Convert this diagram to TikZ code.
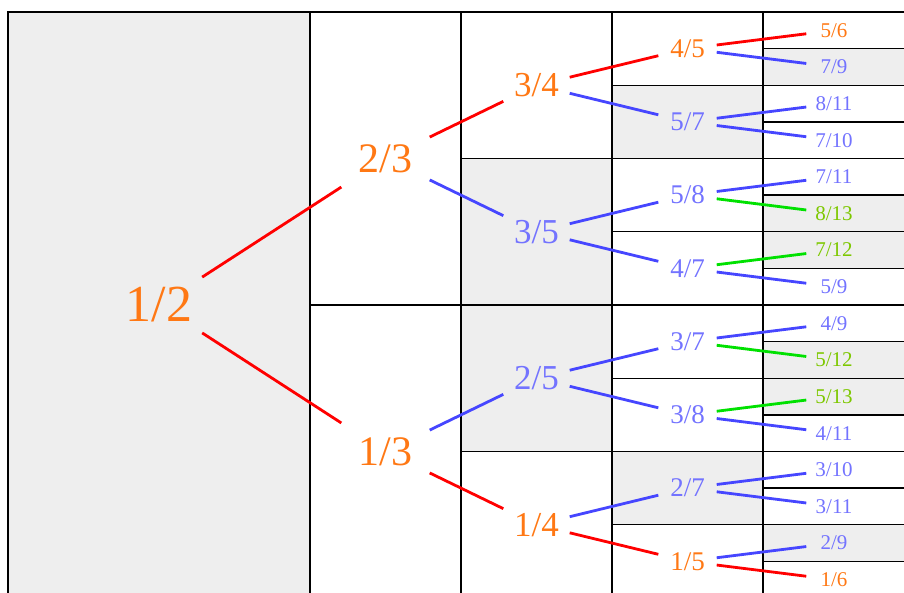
\documentclass[tikz,border=0pt]{standalone}
\usepackage{fontspec}
\setmainfont{Liberation Serif}
\definecolor{fraco}{RGB}{255,120,20}
\definecolor{fracb}{RGB}{115,115,255}
\definecolor{fracg}{RGB}{125,200,0}
\definecolor{linko}{RGB}{255,0,0}
\definecolor{linkb}{RGB}{70,70,255}
\definecolor{linkg}{RGB}{0,225,0}
\definecolor{cellgrey}{RGB}{238,238,238}
\tikzset{
  gridline/.style={draw=black, line width=1.3pt},
  frac/.style={inner sep=0pt, anchor=center},
  fraczero/.style={frac, font=\fontsize{52}{52}\selectfont, minimum width=86pt, minimum height=60pt},
  fracone/.style={frac, font=\fontsize{42}{42}\selectfont, minimum width=88pt, minimum height=60pt},
  fractwo/.style={frac, font=\fontsize{35}{35}\selectfont, minimum width=66pt, minimum height=34pt},
  fracthree/.style={frac, font=\fontsize{27}{27}\selectfont, minimum width=58pt, minimum height=26pt},
  fracfour/.style={frac, font=\fontsize{21}{21}\selectfont, minimum width=55pt, minimum height=22pt},
  link/.style={line width=2.8pt}
}
\begin{document}
\begin{tikzpicture}[x=1pt, y=-1pt]
\useasboundingbox (0,0) rectangle (904,592);
\clip (0,0) rectangle (904,592);
% shaded cells
\foreach \k/\j in {0/0,2/1,2/2,3/1,3/6,4/1,4/5,4/6,4/9,4/10,4/14} {
  \pgfmathsetmacro{\h}{586/2^\k}
  \pgfmathsetmacro{\xa}{\k==0 ? 8 : 159+\k*151}
  \pgfmathsetmacro{\xb}{159+(\k+1)*151}
  \fill[cellgrey] (\xa,{12+\j*\h}) rectangle (\xb,{12+(\j+1)*\h});
}
% grid of cells
\foreach \k/\xa/\xb in {0/8/310,1/310/461,2/461/612,3/612/763,4/763/914} {
  \pgfmathtruncatemacro{\n}{2^\k}
  \pgfmathsetmacro{\h}{586/\n}
  \foreach \j in {1,...,\n} {
    \draw[gridline] (\xa,{12+(\j-1)*\h}) rectangle (\xb,{12+\j*\h});
  }
}
% tree of fractions
\node[fraczero, text=fraco] (n0-0) at (159,305) {1/2};
\foreach \j/\p/\q/\clr in {0/2/3/o,1/1/3/o} {
  \pgfmathsetmacro{\y}{12+(\j+0.5)*293}
  \pgfmathtruncatemacro{\pj}{\j/2}
  \node[fracone, text=frac\clr] (n1-\j) at (385.5,\y) {\p/\q};
  \draw[link, draw=link\clr] (n0-\pj) -- (n1-\j);
}
\foreach \j/\p/\q/\clr in {0/3/4/o,1/3/5/b,2/2/5/b,3/1/4/o} {
  \pgfmathsetmacro{\y}{12+(\j+0.5)*146.5}
  \pgfmathtruncatemacro{\pj}{\j/2}
  \node[fractwo, text=frac\clr] (n2-\j) at (536.5,\y) {\p/\q};
  \draw[link, draw=link\clr] (n1-\pj) -- (n2-\j);
}
\foreach \j/\p/\q/\clr in {0/4/5/o,1/5/7/b,2/5/8/b,3/4/7/b,4/3/7/b,5/3/8/b,6/2/7/b,7/1/5/o} {
  \pgfmathsetmacro{\y}{12+(\j+0.5)*73.25}
  \pgfmathtruncatemacro{\pj}{\j/2}
  \node[fracthree, text=frac\clr] (n3-\j) at (687.5,\y) {\p/\q};
  \draw[link, draw=link\clr] (n2-\pj) -- (n3-\j);
}
\foreach \j/\p/\q/\clr in {0/5/6/o,1/7/9/b,2/8/11/b,3/7/10/b,4/7/11/b,5/8/13/g,6/7/12/g,7/5/9/b,
                          8/4/9/b,9/5/12/g,10/5/13/g,11/4/11/b,12/3/10/b,13/3/11/b,14/2/9/b,15/1/6/o} {
  \pgfmathsetmacro{\y}{12+(\j+0.5)*36.625}
  \pgfmathtruncatemacro{\pj}{\j/2}
  \node[fracfour, text=frac\clr] (n4-\j) at (834,\y) {\p/\q};
  \draw[link, draw=link\clr] (n3-\pj) -- (n4-\j);
}
\end{tikzpicture}
\end{document}
